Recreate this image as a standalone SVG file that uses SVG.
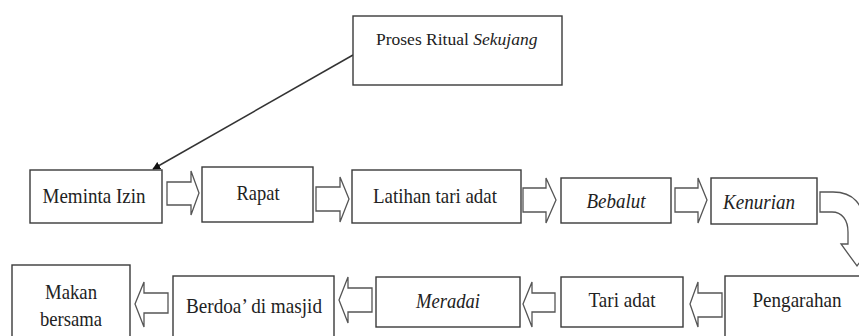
<svg xmlns="http://www.w3.org/2000/svg" width="859" height="336" viewBox="0 0 859 336">
<defs>
<style>
.box{fill:#fff;stroke:#3a3a3a;stroke-width:1.4}
.blk{fill:#fff;stroke:#555;stroke-width:1.3;stroke-linejoin:miter}
text{font-family:"Liberation Serif","Times New Roman",serif;font-size:21px;fill:#222}
.c{text-anchor:middle}
.i{font-style:italic}
</style>
<marker id="ah" viewBox="0 0 10 10" refX="9" refY="5" markerWidth="8" markerHeight="8" markerUnits="userSpaceOnUse" orient="auto">
<path d="M0,0 L10,5 L0,10 Z" fill="#111"/>
</marker>
</defs>
<rect width="859" height="336" fill="#fff"/>

<g id="connectors">
<line x1="353" y1="55" x2="153" y2="169" stroke="#333" stroke-width="1.5" marker-end="url(#ah)"/>
<path class="blk" d="M167 182 H191 V171 L199 193 L191 215 V205 H167 Z"/>
<path class="blk" d="M316 187 H340 V177 L349 199 L340 222 V211 H316 Z"/>
<path class="blk" d="M523 188 H546 V178 L556 200 L546 223 V212 H523 Z"/>
<path class="blk" d="M675 188 H698 V178 L707 200 L698 223 V212 H675 Z"/>
<path class="blk" d="M820 192 L833 192 C853 192 864 204 864 226 L864 244 L873 244 L857 266 L841 244 L848 244 L848 232 C848 220 842 212 832 212 L820 212 Z"/>
<path class="blk" d="M722 293 H698 V282 L690 304 L698 327 V317 H722 Z"/>
<path class="blk" d="M555 293 H532 V282 L523 304 L532 327 V312 H555 Z"/>
<path class="blk" d="M372 288 H348 V277 L339 300 L348 323 V312 H372 Z"/>
<path class="blk" d="M168 293 H144 V282 L135 304 L144 327 V313 H168 Z"/>
</g>

<g id="n-proses">
<rect class="box" x="353" y="16" width="209" height="69"/>
<text x="376" y="45" style="font-size:17.5px">Proses Ritual <tspan class="i">Sekujang</tspan></text>
</g>
<g id="n-meminta">
<rect class="box" x="30" y="170" width="132" height="53"/>
<text class="c" x="94" y="203" textLength="103" lengthAdjust="spacingAndGlyphs">Meminta Izin</text>
</g>
<g id="n-rapat">
<rect class="box" x="202" y="167" width="111" height="55"/>
<text class="c" x="258" y="200" textLength="43" lengthAdjust="spacingAndGlyphs">Rapat</text>
</g>
<g id="n-latihan">
<rect class="box" x="352" y="170" width="169" height="53"/>
<text class="c" x="435" y="203" textLength="124" lengthAdjust="spacingAndGlyphs">Latihan tari adat</text>
</g>
<g id="n-bebalut">
<rect class="box" x="561" y="178" width="110" height="45"/>
<text class="c i" x="616" y="208" textLength="59" lengthAdjust="spacingAndGlyphs">Bebalut</text>
</g>
<g id="n-kenurian">
<rect class="box" x="711" y="178" width="106" height="46"/>
<text class="c i" x="759" y="209" textLength="72" lengthAdjust="spacingAndGlyphs">Kenurian</text>
</g>
<g id="n-pengarahan">
<rect class="box" x="725" y="276" width="150" height="80"/>
<text class="c" x="797" y="307" textLength="89" lengthAdjust="spacingAndGlyphs">Pengarahan</text>
</g>
<g id="n-tari">
<rect class="box" x="561" y="277" width="122" height="50"/>
<text class="c" x="622" y="307" textLength="67" lengthAdjust="spacingAndGlyphs">Tari adat</text>
</g>
<g id="n-meradai">
<rect class="box" x="376" y="277" width="144" height="50"/>
<text class="c i" x="448" y="308" textLength="64" lengthAdjust="spacingAndGlyphs">Meradai</text>
</g>
<g id="n-berdoa">
<rect class="box" x="173" y="276" width="161" height="80"/>
<text class="c" x="254" y="313" textLength="136" lengthAdjust="spacingAndGlyphs">Berdoa’ di masjid</text>
</g>
<g id="n-makan">
<rect class="box" x="12" y="265" width="118" height="90"/>
<text class="c" x="71" y="299" textLength="52" lengthAdjust="spacingAndGlyphs">Makan</text>
<text class="c" x="71" y="326" textLength="62" lengthAdjust="spacingAndGlyphs">bersama</text>
</g>
</svg>
